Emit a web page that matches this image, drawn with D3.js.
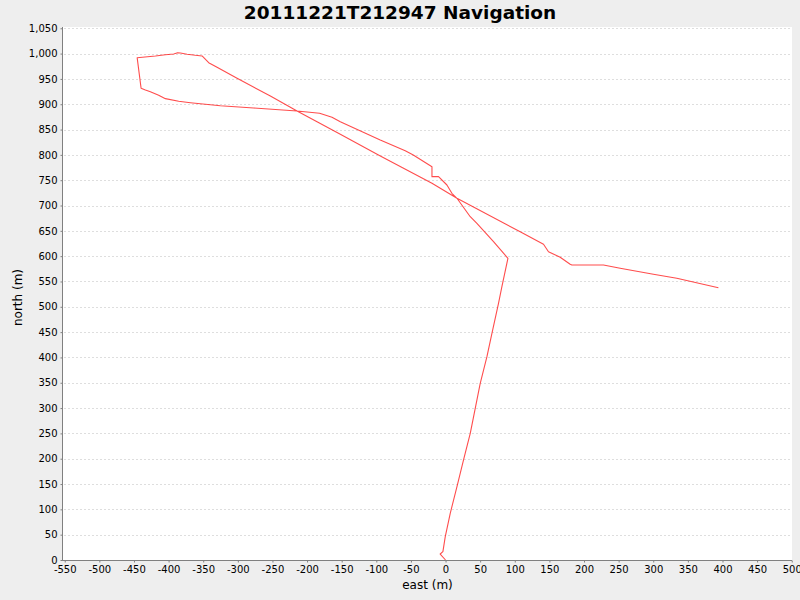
<!DOCTYPE html>
<html>
<head>
<meta charset="utf-8">
<script src="https://cdn.jsdelivr.net/npm/d3@7"></script>
<style>
  html, body { margin: 0; padding: 0; background: #eeeeee; }
  svg { display: block; font-family: "DejaVu Sans", sans-serif; }
</style>
</head>
<body>
<svg id="chart" width="800" height="600"></svg>
<script>
// ---- data ----
const titleText = "20111221T212947 Navigation";
const xLabel = "east (m)";
const yLabel = "north (m)";
const xTicks = [-550,-500,-450,-400,-350,-300,-250,-200,-150,-100,-50,0,50,100,150,200,250,300,350,400,450,500];
const yTicks = [0,50,100,150,200,250,300,350,400,450,500,550,600,650,700,750,800,850,900,950,1000,1050];

const east = [0, -7.7, -3.8, -0.4, 6.8, 16.5, 26.0, 35.7, 42.9, 50.1, 59.8, 67.0, 76.5, 81.4, 90.1,
  69.3, 45.3, 35.7, 16.5, 9.2, 2.0, -10.1, -19.6, -19.6, -46.6, -58.2, -94.3, -152.0, -164.0, -181.9,
  -214.5, -277.1, -325.2, -368.5, -385.4, -404.6, -414.3, -426.3, -433.5, -439.7, -445.4,
  -419.0, -404.6, -392.6, -386.8, -382.9, -373.3, -361.3, -351.6, -342.1, -330.0, -301.1, -253.0,
  -214.5, -152.0, -94.2, -19.6, 16.5, 107.8, 141.5, 148.7, 165.6, 180.0, 182.5, 228.1, 252.2, 300.2, 334.0, 394.1];
const north = [0, 11.8, 16.4, 46.0, 92.2, 144.7, 197.5, 250.2, 299.6, 348.9, 401.5, 447.7, 506.9, 539.7, 595.8,
  628.6, 664.9, 677.9, 714.3, 724.1, 740.5, 757.0, 757.0, 776.7, 799.8, 808.3, 829.4, 865.5, 874.2, 882.1,
  886.7, 892.6, 897.1, 903.0, 905.8, 911.0, 917.7, 924.8, 928.1, 931.5, 991.9,
  995.3, 997.8, 999.2, 1001.8, 1001.2, 998.6, 996.6, 995.3, 982.0, 972.9, 951.2, 916.3,
  886.7, 840.6, 797.8, 743.9, 714.3, 648.3, 623.4, 608.8, 597.8, 583.9, 582.5, 582.5, 576.0, 564.2, 556.3, 537.7];

// ---- layout ----
const plot = { left: 63, right: 792, top: 27, bottom: 560 };
const svg = d3.select("#chart");

svg.append("rect").attr("x", 0).attr("y", 0).attr("width", 800).attr("height", 600).attr("fill", "#eeeeee");
svg.append("rect")
  .attr("x", plot.left).attr("y", plot.top)
  .attr("width", plot.right - plot.left).attr("height", plot.bottom - plot.top)
  .attr("fill", "#ffffff");

const x = d3.scaleLinear().domain([-552.5, 500.4]).range([plot.left, plot.right]);
const y = d3.scaleLinear().domain([0, 1052.5]).range([plot.bottom, plot.top]);

// horizontal grid lines
svg.append("g").selectAll("line").data(yTicks.filter(d => d > 0)).join("line")
  .attr("x1", plot.left + 1).attr("x2", plot.right)
  .attr("y1", d => Math.round(y(d)) + 0.5).attr("y2", d => Math.round(y(d)) + 0.5)
  .attr("stroke", "#dedede").attr("stroke-width", 1).attr("stroke-dasharray", "2,2");

// data path
const pts = east.map((e, i) => [e, north[i]]);
const line = d3.line().x(d => x(d[0])).y(d => y(d[1]));
svg.append("path").datum(pts)
  .attr("d", line)
  .attr("fill", "none").attr("stroke", "#ff0000").attr("stroke-opacity", 0.7)
  .attr("stroke-width", 1.1).attr("stroke-linejoin", "round");

// axes
const fmtX = d => String(d);
const fmtY = d => d3.format(",")(d);
const xAxis = d3.axisBottom(x).tickValues(xTicks).tickSize(2).tickPadding(3).tickFormat(fmtX);
const yAxis = d3.axisLeft(y).tickValues(yTicks).tickSize(2).tickPadding(3).tickFormat(fmtY);

const gx = svg.append("g").attr("transform", `translate(0,${plot.bottom + 0.5})`).call(xAxis);
const gy = svg.append("g").attr("transform", `translate(${plot.left - 0.5},0)`).call(yAxis);

[gx, gy].forEach(g => {
  g.select(".domain").attr("stroke", "#808080").attr("stroke-width", 1);
  g.selectAll(".tick line").attr("stroke", "#808080");
  g.selectAll(".tick text").attr("fill", "#000").attr("font-size", "10px")
    .attr("font-family", "'DejaVu Sans', sans-serif");
});
gx.select(".domain").attr("d", `M${plot.left - 1},0H${plot.right}`);
gy.select(".domain").attr("d", `M0,${plot.top}V${plot.bottom}`);

// title
svg.append("text").attr("x", 400).attr("y", 19)
  .attr("text-anchor", "middle").attr("font-size", "18.5px").attr("font-weight", "bold")
  .attr("fill", "#000").text(titleText);

// axis labels
svg.append("text").attr("x", (plot.left + plot.right) / 2).attr("y", 589)
  .attr("text-anchor", "middle").attr("font-size", "12px").attr("fill", "#000").text(xLabel);
svg.append("text")
  .attr("transform", `translate(22,${(plot.top + plot.bottom) / 2 + 4}) rotate(-90)`)
  .attr("text-anchor", "middle").attr("font-size", "12px").attr("fill", "#000").text(yLabel);
</script>
</body>
</html>
